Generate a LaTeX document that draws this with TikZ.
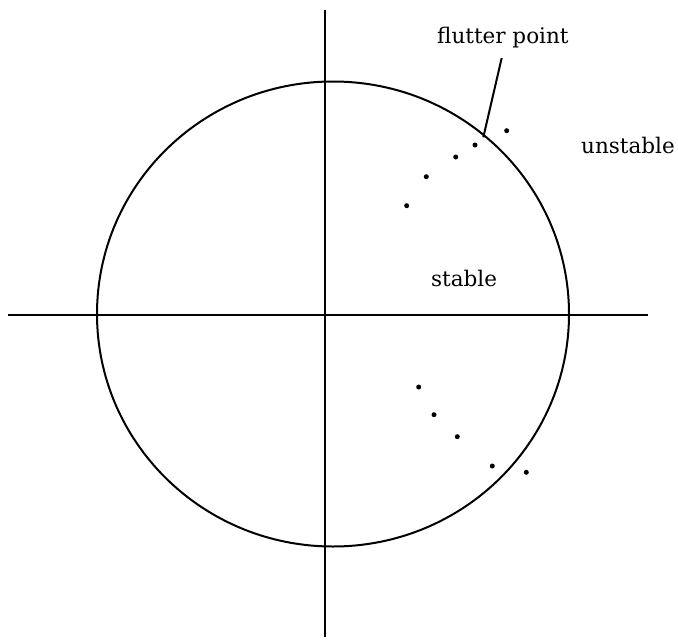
\documentclass[tikz,border=0pt]{standalone}
\usepackage{fontspec}
\setmainfont{DejaVu Serif}
\usetikzlibrary{shapes.geometric}
\begin{document}
\begin{tikzpicture}[x=1pt,y=-1pt,
  axis/.style={line width=2pt},
  dot/.style={circle,fill=black,inner sep=0pt,minimum size=5pt},
  lbl/.style={font=\fontsize{21.5}{26}\selectfont,inner sep=0pt,anchor=base west}]
\useasboundingbox (0,0) rectangle (678,640);
\fill[white] (0,0) rectangle (678,640);
% axes
\coordinate (vt) at (325,10);
\coordinate (vb) at (325,637);
\coordinate (hl) at (8,315);
\coordinate (hr) at (648,315);
\draw[axis] (vt) -- (vb);
\draw[axis] (hl) -- (hr);
% unit circle
\node (circ) [draw,axis,ellipse,inner sep=0pt,minimum width=472pt,minimum height=465pt] at (333,314) {};
% poles
\node[dot] (u1) at (506.7,130.7) {};
\node[dot] (u2) at (475,145) {};
\node[dot] (u3) at (455.7,157) {};
\node[dot] (u4) at (426.3,176.7) {};
\node[dot] (u5) at (406.7,205.7) {};
\node[dot] (l1) at (418.7,387) {};
\node[dot] (l2) at (434,414.7) {};
\node[dot] (l3) at (457.3,436.7) {};
\node[dot] (l4) at (492.3,466) {};
\node[dot] (l5) at (526.3,472.3) {};
% labels
\node[lbl] (fl) at (437,43) {flutter point};
\node[lbl] (un) at (581,153) {unstable};
\node[lbl] (st) at (431,286) {stable};
\coordinate (ft) at (501.7,58);
\coordinate (fp) at (483.3,137.3);
\draw[axis] (ft) -- (fp);
\end{tikzpicture}
\end{document}
